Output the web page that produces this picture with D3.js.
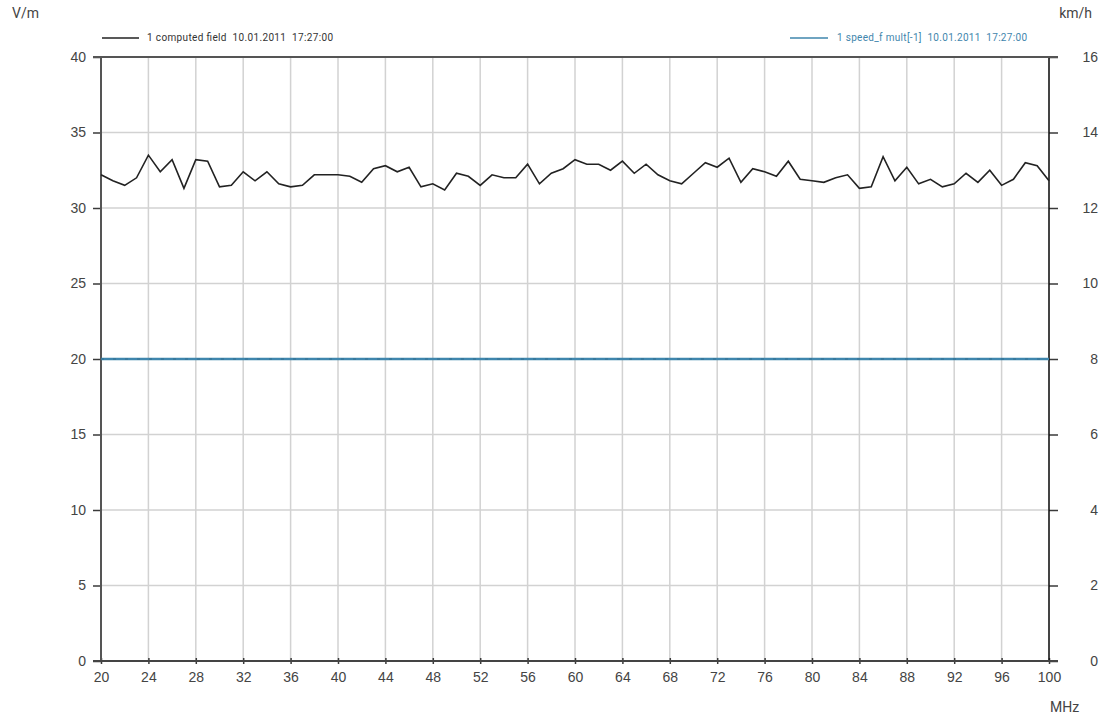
<!DOCTYPE html>
<html>
<head>
<meta charset="utf-8">
<script src="https://cdn.jsdelivr.net/npm/d3@7"></script>
<style>
  html, body { margin: 0; padding: 0; background: #fff; }
  svg { display: block; font-family: Roboto, "DejaVu Sans", sans-serif; }
</style>
</head>
<body>
<svg id="chart" width="1100" height="718"></svg>
<script>
// Frequency sweep, 20–100 MHz in 1 MHz steps
const freqStart = 20;
const freqStep = 1;
// Computed field strength (V/m)
const fieldValues = [
  32.2, 31.8, 31.5, 32.0, 33.5, 32.4, 33.2, 31.3, 33.2, 33.1,
  31.4, 31.5, 32.4, 31.8, 32.4, 31.6, 31.4, 31.5, 32.2, 32.2,
  32.2, 32.1, 31.7, 32.6, 32.8, 32.4, 32.7, 31.4, 31.6, 31.2,
  32.3, 32.1, 31.5, 32.2, 32.0, 32.0, 32.9, 31.6, 32.3, 32.6,
  33.2, 32.9, 32.9, 32.5, 33.1, 32.3, 32.9, 32.2, 31.8, 31.6,
  32.3, 33.0, 32.7, 33.3, 31.7, 32.6, 32.4, 32.1, 33.1, 31.9,
  31.8, 31.7, 32.0, 32.2, 31.3, 31.4, 33.4, 31.8, 32.7, 31.6,
  31.9, 31.4, 31.6, 32.3, 31.7, 32.5, 31.5, 31.9, 33.0, 32.8,
  31.8
];
// Speed series (km/h), constant over the sweep
const speedValues = new Array(fieldValues.length).fill(8);

const xTicks = [20, 24, 28, 32, 36, 40, 44, 48, 52, 56, 60, 64, 68, 72, 76, 80, 84, 88, 92, 96, 100];
const leftTicks = [0, 5, 10, 15, 20, 25, 30, 35, 40];
const rightTicks = [0, 2, 4, 6, 8, 10, 12, 14, 16];

const fieldLabel = "1 computed field  10.01.2011  17:27:00";
const speedLabel = "1 speed_f mult[-1]  10.01.2011  17:27:00";

const svg = d3.select("#chart");
const margin = { left: 101, right: 1049, top: 57, bottom: 661 };

const x = d3.scaleLinear().domain([20, 100]).range([margin.left, margin.right]);
const yL = d3.scaleLinear().domain([0, 40]).range([margin.bottom, margin.top]);
const yR = d3.scaleLinear().domain([0, 16]).range([margin.bottom, margin.top]);

const axisColor = "#3a3a3a";
const textColor = "#444";
const gridColor = "#d2d2d2";
const blue = "#3f86ad";
const labelSize = "14px";

// Grid
const grid = svg.append("g");
grid.selectAll("line.v").data(xTicks).join("line")
  .attr("x1", d => x(d)).attr("x2", d => x(d))
  .attr("y1", margin.top).attr("y2", margin.bottom)
  .attr("stroke", gridColor).attr("stroke-width", 1.5);
grid.selectAll("line.h").data(leftTicks).join("line")
  .attr("x1", margin.left).attr("x2", margin.right)
  .attr("y1", d => yL(d)).attr("y2", d => yL(d))
  .attr("stroke", gridColor).attr("stroke-width", 1.5);

// Axes
function styleAxis(g) {
  g.select(".domain").remove();
  g.selectAll(".tick line").attr("stroke", axisColor).attr("stroke-width", 1.5);
  g.selectAll(".tick text").attr("fill", textColor).style("font-size", labelSize);
}

svg.append("g")
  .attr("transform", `translate(${margin.left},0)`)
  .call(d3.axisLeft(yL).tickValues(leftTicks).tickSize(8).tickPadding(7))
  .call(styleAxis);

svg.append("g")
  .attr("transform", `translate(${margin.right},0)`)
  .call(d3.axisRight(yR).tickValues(rightTicks).tickSize(9).tickPadding(6))
  .call(styleAxis)
  .call(g => g.selectAll(".tick text").attr("x", 49).attr("text-anchor", "end"));

svg.append("g")
  .attr("transform", `translate(0,${margin.bottom})`)
  .call(d3.axisBottom(x).tickValues(xTicks).tickSize(3).tickPadding(8))
  .call(styleAxis)
  .call(g => g.selectAll(".tick line").attr("y1", -3));

// Frame lines
svg.append("line").attr("x1", margin.left).attr("x2", margin.left)
  .attr("y1", margin.top).attr("y2", margin.bottom)
  .attr("stroke", "#555").attr("stroke-width", 2);
svg.append("line").attr("x1", margin.right).attr("x2", margin.right)
  .attr("y1", margin.top).attr("y2", margin.bottom)
  .attr("stroke", "#111").attr("stroke-width", 1.5);
svg.append("line").attr("x1", margin.left - 8).attr("x2", margin.right + 9)
  .attr("y1", margin.bottom).attr("y2", margin.bottom)
  .attr("stroke", "#444").attr("stroke-width", 1.8);
svg.append("line").attr("x1", margin.left - 8).attr("x2", margin.right + 9)
  .attr("y1", margin.top).attr("y2", margin.top)
  .attr("stroke", "#555").attr("stroke-width", 1.8);

// Series
const freq = i => freqStart + i * freqStep;

const speedLine = d3.line().x((d, i) => x(freq(i))).y(d => yR(d));
svg.append("path").datum(speedValues)
  .attr("d", speedLine).attr("fill", "none")
  .attr("stroke", blue).attr("stroke-width", 2.5);
svg.append("path").datum(speedValues)
  .attr("d", speedLine).attr("fill", "none")
  .attr("stroke", "#2a5f7c").attr("stroke-width", 1)
  .attr("stroke-dasharray", "3,9").attr("opacity", 0.6);

const fieldLine = d3.line().x((d, i) => x(freq(i))).y(d => yL(d));
svg.append("path").datum(fieldValues)
  .attr("d", fieldLine).attr("fill", "none")
  .attr("stroke", "#222").attr("stroke-width", 1.6)
  .attr("stroke-linejoin", "miter");

// Unit labels
svg.append("text").attr("x", 12).attr("y", 18).text("V/m")
  .attr("fill", textColor).style("font-size", labelSize);
svg.append("text").attr("x", 1092).attr("y", 18).text("km/h")
  .attr("text-anchor", "end")
  .attr("fill", textColor).style("font-size", labelSize);
svg.append("text").attr("x", 1050).attr("y", 712).text("MHz")
  .attr("fill", textColor).style("font-size", labelSize);

// Legend
svg.append("line").attr("x1", 102).attr("x2", 139).attr("y1", 38).attr("y2", 38)
  .attr("stroke", "#222").attr("stroke-width", 1.5);
svg.append("text").attr("x", 147).attr("y", 41).text(fieldLabel)
  .attr("fill", "#333").style("font-size", "10px")
  .attr("xml:space", "preserve")
  .attr("textLength", 186).attr("lengthAdjust", "spacing");
svg.append("line").attr("x1", 790).attr("x2", 828).attr("y1", 38).attr("y2", 38)
  .attr("stroke", blue).attr("stroke-width", 1.5);
svg.append("text").attr("x", 837).attr("y", 41).text(speedLabel)
  .attr("fill", blue).style("font-size", "10px")
  .attr("xml:space", "preserve")
  .attr("textLength", 190).attr("lengthAdjust", "spacing");
</script>
</body>
</html>
